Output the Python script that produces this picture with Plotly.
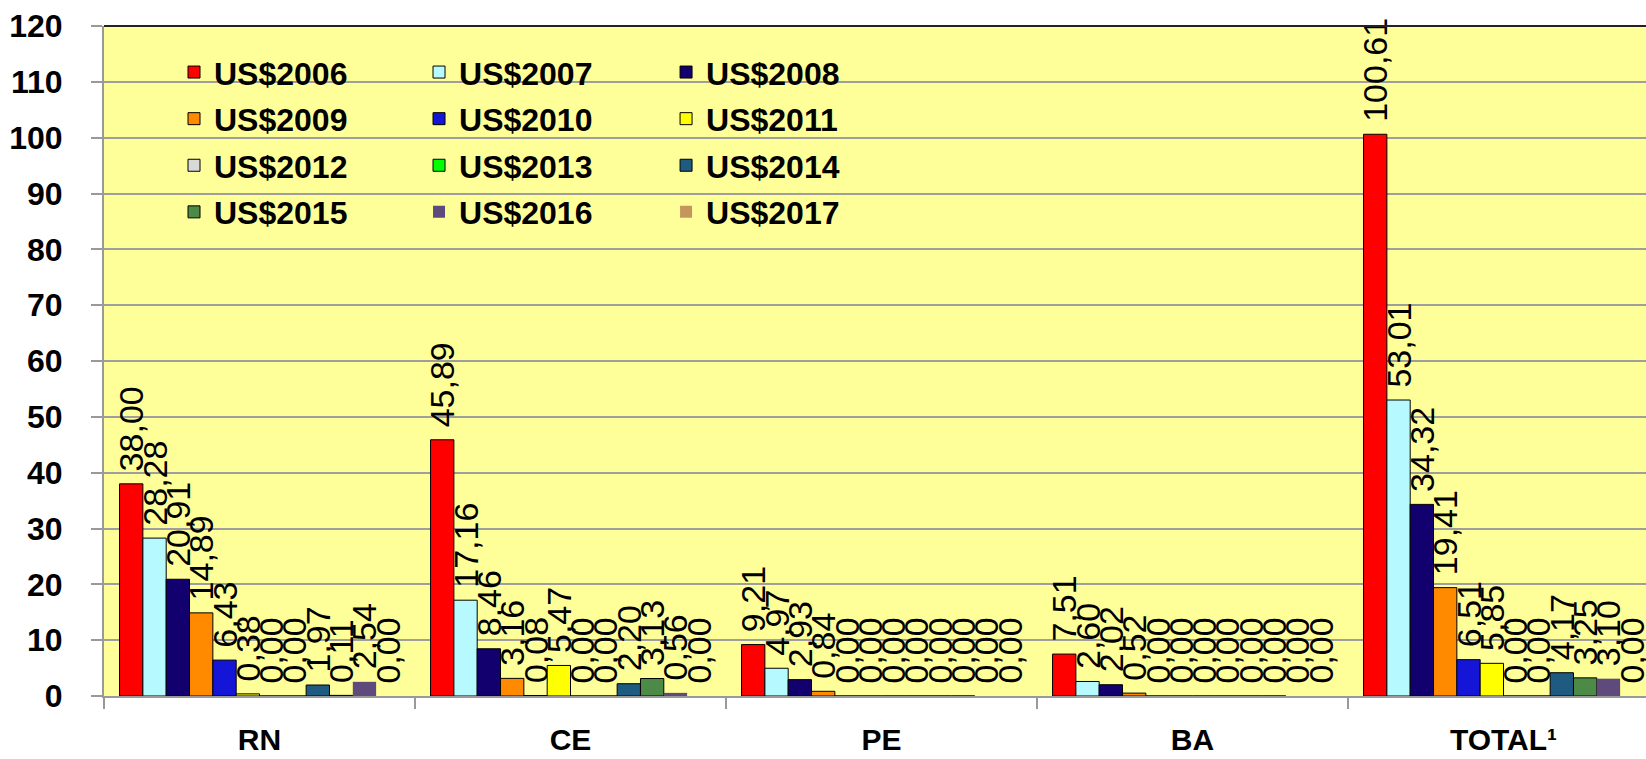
import plotly.graph_objects as go

categories = ["RN", "CE", "PE", "BA", "TOTAL¹"]
series_names = ["US$2006", "US$2007", "US$2008", "US$2009", "US$2010", "US$2011",
                "US$2012", "US$2013", "US$2014", "US$2015", "US$2016", "US$2017"]

v2006 = [38.00, 45.89, 9.21, 7.51, 100.61]
v2007 = [28.28, 17.16, 4.97, 2.60, 53.01]
v2008 = [20.91, 8.46, 2.93, 2.02, 34.32]
v2009 = [14.89, 3.16, 0.84, 0.52, 19.41]
v2010 = [6.43, 0.08, 0.00, 0.00, 6.51]
v2011 = [0.38, 5.47, 0.00, 0.00, 5.85]
v2012 = [0.00, 0.00, 0.00, 0.00, 0.00]
v2013 = [0.00, 0.00, 0.00, 0.00, 0.00]
v2014 = [1.97, 2.20, 0.00, 0.00, 4.17]
v2015 = [0.11, 3.13, 0.00, 0.00, 3.25]
v2016 = [2.54, 0.56, 0.00, 0.00, 3.10]
v2017 = [0.00, 0.00, 0.00, 0.00, 0.00]

series_values = [v2006, v2007, v2008, v2009, v2010, v2011,
                 v2012, v2013, v2014, v2015, v2016, v2017]

colors = ["#FF0000", "#B6FAFF", "#12006F", "#FF8A00", "#1515D8", "#FFFF00",
          "#D9D9D9", "#00FF00", "#1F5B80", "#4E8A47", "#5F4A7C", "#C4965C"]
outline_w = [1, 1, 1, 1, 1, 1, 1, 1, 1, 1, 0, 0]

FONT = "Liberation Sans"
legend_ids = ["legend", "legend2", "legend3"]

fig = go.Figure()
for i, (name, vals) in enumerate(zip(series_names, series_values)):
    fig.add_trace(go.Bar(
        x=categories, y=vals, name=name,
        marker=dict(color=colors[i], line=dict(color="black", width=outline_w[i])),
        text=["\u00a0" + f"{v:.2f}".replace(".", ",") for v in vals],
        textposition="outside", textangle=-90, constraintext="none",
        cliponaxis=False,
        textfont=dict(family=FONT, size=34, color="black"),
        legend=legend_ids[i % 3], legendgroup=name,
    ))

leg_common = dict(bgcolor="rgba(0,0,0,0)", borderwidth=0, yanchor="top", xanchor="left",
                  font=dict(family=FONT, size=32, color="black", weight="bold"),
                  tracegroupgap=2, orientation="v")
fig.update_layout(
    legend=dict(x=0.0454, y=0.972, **leg_common),
    legend2=dict(x=0.2043, y=0.972, **leg_common),
    legend3=dict(x=0.3645, y=0.972, **leg_common),
)

fig.update_layout(
    width=1646, height=759,
    margin=dict(l=104, r=0, t=26, b=63),
    paper_bgcolor="white", plot_bgcolor="#FFFF99",
    barmode="group", bargap=0.1, bargroupgap=0,
    showlegend=True,
    font=dict(family=FONT, color="black"),
)
fig.update_xaxes(
    type="category", range=[-0.5, -0.5 + 1542 / 311],
    showline=True, linecolor="#999999", linewidth=2,
    ticks="outside", tickson="boundaries", ticklen=11, tickcolor="#999999", tickwidth=2,
    tickfont=dict(family=FONT, size=30, color="black", weight="bold"),
    ticklabelstandoff=16, showgrid=False, zeroline=False,
)
fig.update_yaxes(
    range=[0, 120], dtick=10, tick0=0,
    showline=True, linecolor="#999999", linewidth=2,
    ticks="outside", ticklen=11, tickcolor="#999999", tickwidth=2,
    tickfont=dict(family=FONT, size=32, color="black", weight="bold"),
    ticklabelstandoff=22,
    showgrid=True, gridcolor="#9E9E9E", gridwidth=1.5, zeroline=False,
)
fig.add_shape(type="line", xref="paper", yref="paper", x0=0, x1=1, y0=1, y1=1,
              line=dict(color="#222222", width=2))

fig.write_html("out.html", config={"displayModeBar": False},
               post_script="document.body.style.margin='0';document.body.style.overflow='hidden';")
